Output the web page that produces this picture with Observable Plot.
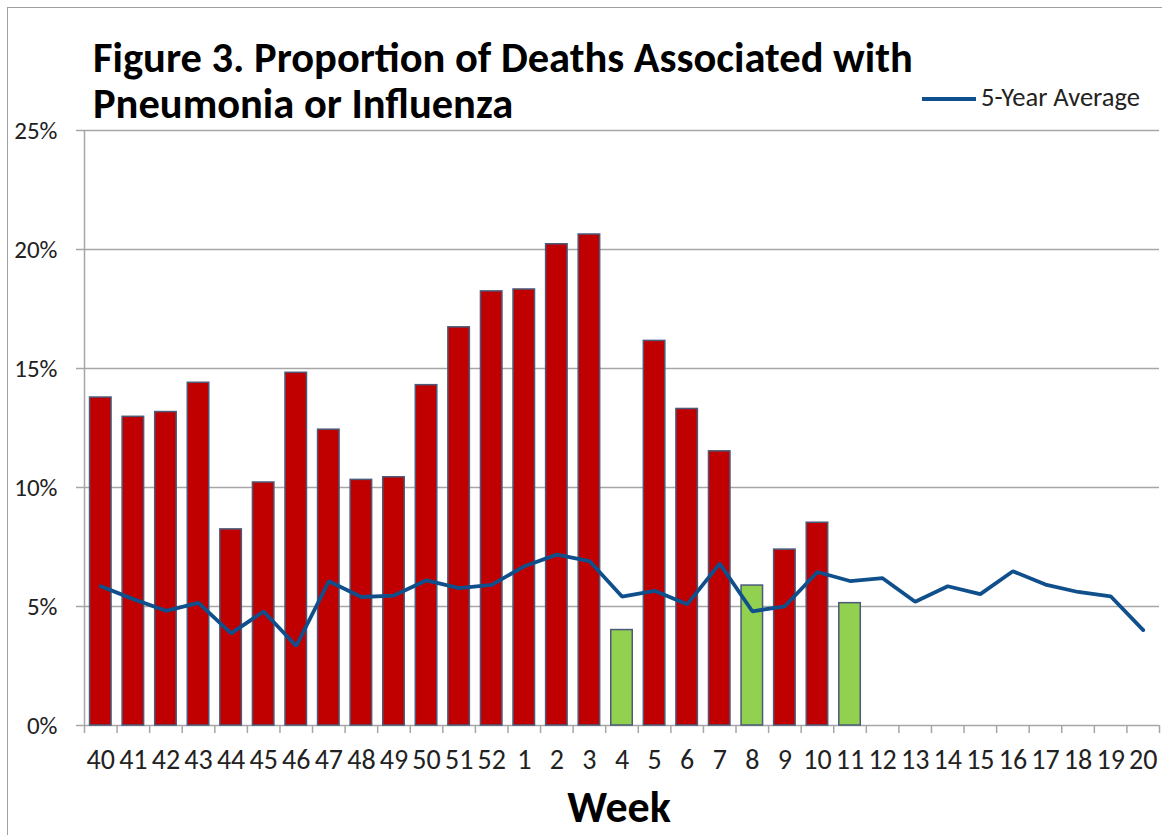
<!DOCTYPE html>
<html><head><meta charset="utf-8">
<script src="https://cdn.jsdelivr.net/npm/d3@7"></script>
<script src="https://cdn.jsdelivr.net/npm/@observablehq/plot@0.6"></script>
<style>
html,body{margin:0;padding:0;background:#fff;}
#wrap{position:relative;width:1162px;height:835px;overflow:hidden;font-family:Carlito,Calibri,Lato,sans-serif;}
#border{position:absolute;left:7px;top:7px;width:1170px;height:840px;border:1.5px solid #a0a0a0;box-sizing:border-box;}
#title{position:absolute;left:93px;top:34.5px;font-weight:bold;font-size:42.5px;line-height:46px;color:#000;white-space:nowrap;}
#legsw{position:absolute;left:922px;top:97.2px;width:54px;height:3.8px;background:#0f4f8c;}
#legtx{position:absolute;left:981px;top:84.4px;font-size:26.5px;line-height:26.5px;color:#222;white-space:nowrap;}
#xlabel{position:absolute;left:0;width:1238px;text-align:center;top:785px;font-weight:bold;font-size:44px;line-height:44px;color:#000;}
#chart{position:absolute;left:0;top:0;}
</style></head>
<body>
<div id="wrap">
  <div id="border"></div>
  <div id="chart"></div>
  <div id="title">Figure 3. Proportion of Deaths Associated with<br>Pneumonia or Influenza</div>
  <div id="legsw"></div><div id="legtx">5-Year Average</div>
  <div id="xlabel">Week</div>
</div>
<script>
const weeks = ["40","41","42","43","44","45","46","47","48","49","50","51","52","1","2","3","4","5","6","7","8","9","10","11","12","13","14","15","16","17","18","19","20"];
const pctDeaths = [13.78,12.97,13.17,14.40,8.24,10.21,14.82,12.43,10.32,10.43,14.30,16.73,18.24,18.32,20.22,20.63,4.01,16.16,13.30,11.52,5.88,7.39,8.52,5.14,null,null,null,null,null,null,null,null,null];
const fiveYearAvg = [5.85,5.31,4.82,5.15,3.87,4.79,3.34,6.06,5.40,5.46,6.10,5.77,5.91,6.69,7.18,6.91,5.42,5.66,5.09,6.80,4.80,5.01,6.45,6.07,6.19,5.20,5.85,5.52,6.48,5.92,5.61,5.43,4.01];
const greenWeeks = ["4","8","11"];
const yTicks = [0,5,10,15,20,25];

const RED = "#c00000", GREEN = "#92d050", EDGE = "#4a5a78", LINE = "#0f4f8c", GRID = "#a6a6a6";

const bars = weeks.map((w,i)=>({week:w, value:pctDeaths[i]})).filter(d=>d.value!=null);
const avg = weeks.map((w,i)=>({week:w, avg:fiveYearAvg[i]}));

const W = 1162, H = 835, ML = 84, MR = 3, MT = 130, MB = 110;
const step = (W - ML - MR) / weeks.length;

const chart = Plot.plot({
  width: W, height: H,
  marginLeft: ML, marginRight: MR, marginTop: MT, marginBottom: MB,
  style: {fontFamily: "Carlito, Calibri, Lato, sans-serif", fontSize: "26px", color: "#222", background: "transparent"},
  x: {type: "band", domain: weeks, paddingInner: 0.34, paddingOuter: 0.17, round: false, label: null},
  y: {type: "linear", domain: [0, 25], label: null},
  marks: [
    Plot.gridY(yTicks, {stroke: GRID, strokeOpacity: 1, strokeWidth: 1.5}),
    Plot.ruleX([weeks[0]], {dx: -step/2, y1: 0, y2: 25, stroke: GRID, strokeWidth: 1.5}),
    Plot.ruleX(weeks, {x: d => d, dx: -step/2, y1: 0, y2: 0, insetBottom: -8, stroke: GRID, strokeWidth: 1.5}),
    Plot.ruleX([weeks[weeks.length-1]], {dx: step/2, y1: 0, y2: 0, insetBottom: -8, stroke: GRID, strokeWidth: 1.5}),
    Plot.barY(bars, {x: "week", y: "value", fill: d => greenWeeks.includes(d.week) ? GREEN : RED, stroke: EDGE, strokeWidth: 1.5}),
    Plot.lineY(avg, {x: "week", y: "avg", stroke: LINE, strokeWidth: 3.8, strokeLinejoin: "miter"}),
    Plot.axisY({ticks: yTicks, tickFormat: d => d + "%", tickSize: 8, tickPadding: 19, stroke: GRID, strokeWidth: 1.5, fontSize: 25, fill: "#222", label: null}),
    Plot.axisX({tickSize: 0, tickPadding: 24, fontSize: 28, fill: "#222", label: null})
  ]
});
document.getElementById("chart").appendChild(chart);
</script>
</body></html>
